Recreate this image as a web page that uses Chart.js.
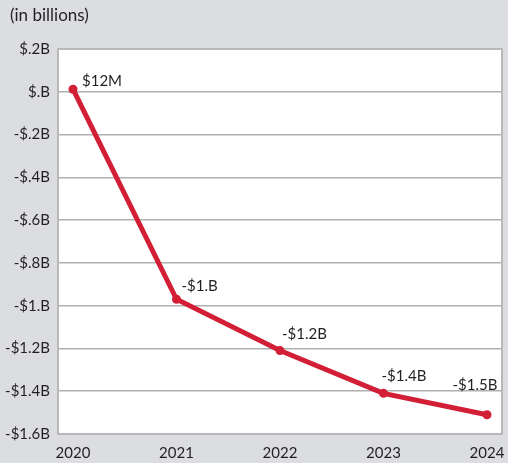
<!DOCTYPE html>
<html>
<head>
<meta charset="utf-8">
<script src="https://cdn.jsdelivr.net/npm/chart.js@4"></script>
<style>
  html, body { margin: 0; padding: 0; background: #dcdde0; }
  #wrap { width: 508px; height: 463px; }
</style>
</head>
<body>
<div id="wrap"><canvas id="lossChart" width="508" height="463"></canvas></div>
<script>
// Net income by year, in billions of dollars
const years = [2020, 2021, 2022, 2023, 2024];
const netIncome = [0.012, -0.97, -1.21, -1.41, -1.51];
const yTicks = [0.2, 0, -0.2, -0.4, -0.6, -0.8, -1.0, -1.2, -1.4, -1.6];

// where each value label sits relative to its point (dx, dy, align)
const labelOffsets = [
    [9, -8, "left"], [5, -13, "left"], [2, -16, "left"], [-2, -17, "left"], [-12, -30, "center"]
];

const RED = "#d21f36";
const INK = "#231f20";
const FONT = "Lato, 'Open Sans', sans-serif";

// $.2B / -$1.B style; small values switch to millions
function money(v) {
    const sign = v < 0 ? "-" : "";
    const a = Math.abs(v);
    if (a > 0 && a < 0.1) return sign + "$" + Math.round(a * 1000) + "M";
    const r = Math.round(a * 10);
    const whole = Math.floor(r / 10);
    const dec = r % 10;
    return sign + "$" + (whole ? whole : "") + "." + (dec ? dec : "") + "B";
}

const plotFrame = {
    id: "plotFrame",
    beforeDraw(chart) {
        const { ctx, chartArea: a } = chart;
        ctx.save();
        ctx.fillStyle = "#ffffff";
        ctx.fillRect(a.left, a.top, a.right - a.left, a.bottom - a.top);
        ctx.restore();
    },
    beforeDatasetsDraw(chart) {
        const { ctx, chartArea: a } = chart;
        ctx.save();
        ctx.strokeStyle = "#b8b8b8";
        ctx.lineWidth = 2;
        ctx.strokeRect(a.left, a.top, a.right - a.left, a.bottom - a.top);
        ctx.fillStyle = INK;
        ctx.font = "17px " + FONT;
        ctx.textBaseline = "middle";
        ctx.fillText("(in billions)", 10, 16);
        ctx.restore();
    },
    afterDatasetsDraw(chart) {
        const { ctx } = chart;
        const pts = chart.getDatasetMeta(0).data;
        ctx.save();
        ctx.fillStyle = INK;
        ctx.font = "15px " + FONT;
        ctx.textBaseline = "middle";
        pts.forEach((p, i) => {
            const [dx, dy, align] = labelOffsets[i];
            ctx.textAlign = align;
            ctx.fillText(money(netIncome[i]), p.x + dx, p.y + dy);
        });
        ctx.restore();
    }
};

window.onload = function() {
    const ctx = document.getElementById("lossChart").getContext("2d");
    new Chart(ctx, {
        type: "line",
        data: {
            datasets: [{
                data: years.map((y, i) => ({ x: y, y: netIncome[i] })),
                borderColor: RED,
                backgroundColor: RED,
                borderWidth: 5,
                pointRadius: 4.5,
                pointHoverRadius: 4.5,
                pointBorderWidth: 0,
                tension: 0
            }]
        },
        options: {
            responsive: false,
            animation: false,
            layout: { padding: { top: 49, right: 6, left: 0, bottom: 0 } },
            plugins: {
                legend: { display: false },
                tooltip: { enabled: false }
            },
            scales: {
                x: {
                    type: "linear",
                    min: 2019.855,
                    max: 2024.145,
                    afterBuildTicks(scale) {
                        scale.ticks = years.map(v => ({ value: v }));
                    },
                    afterFit(scale) {
                        scale.height = 29;
                        scale.paddingLeft = 0;
                        scale.paddingRight = 0;
                    },
                    grid: { display: false, drawTicks: false },
                    border: { display: false },
                    ticks: {
                        padding: 10,
                        color: INK,
                        font: { family: FONT, size: 15 },
                        callback: v => String(v)
                    }
                },
                y: {
                    min: -1.6,
                    max: 0.2,
                    afterBuildTicks(scale) {
                        scale.ticks = yTicks.map(v => ({ value: v }));
                    },
                    afterFit(scale) { scale.width = 58; },
                    grid: { color: "#b0b0b0", lineWidth: 1.5, drawTicks: false },
                    border: { display: false },
                    ticks: {
                        padding: 8,
                        color: INK,
                        font: { family: FONT, size: 15 },
                        callback: v => money(v)
                    }
                }
            }
        },
        plugins: [plotFrame]
    });
};
</script>
</body>
</html>
